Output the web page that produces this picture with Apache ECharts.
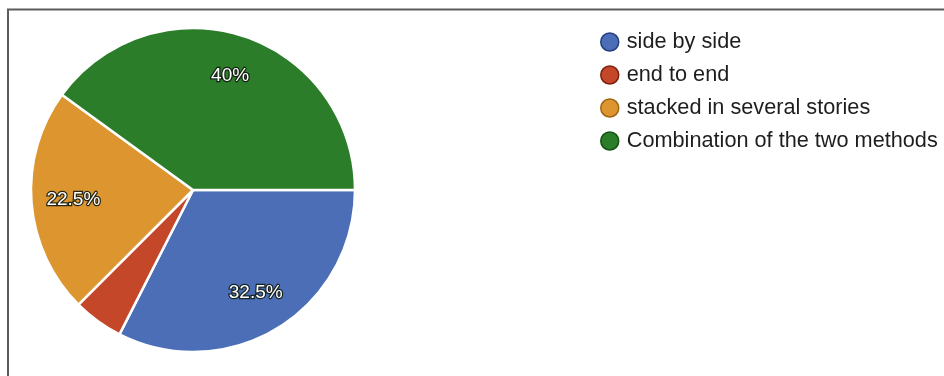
<!DOCTYPE html>
<html>
<head>
<meta charset="utf-8">
<script src="https://cdn.jsdelivr.net/npm/echarts@6/dist/echarts.min.js"></script>
<style>
html,body{margin:0;padding:0;background:#fff;}
#chart{width:944px;height:376px;}
</style>
</head>
<body>
<div id="chart"></div>
<script>
const categories = ['side by side', 'end to end', 'stacked in several stories', 'Combination of the two methods'];
const values = [32.5, 5, 22.5, 40];
const colors = ['#4b6eb7', '#c4472a', '#dd952f', '#2b7d2a'];
const edgeColors = ['#243f80', '#7d2010', '#a0650f', '#145214'];

const chart = echarts.init(document.getElementById('chart'));
const pieData = categories.map((n, i) => ({ name: n, value: values[i], itemStyle: { color: colors[i] } }));

chart.setOption({
  backgroundColor: '#ffffff',
  animation: false,
  graphic: [{
    type: 'polyline',
    shape: { points: [[8, 376], [8, 9.5], [944, 9.5]] },
    style: { stroke: '#5c5c5c', lineWidth: 2, fill: null },
    silent: true
  }],
  legend: {
    orient: 'vertical',
    left: 595,
    top: 26,
    icon: 'circle',
    itemWidth: 18,
    itemHeight: 18,
    itemGap: 11,
    selectedMode: false,
    data: categories.map((n, i) => ({ name: n, itemStyle: { color: colors[i], borderColor: edgeColors[i], borderWidth: 1.5 } })),
    textStyle: { fontFamily: 'Liberation Sans, Arial', fontSize: 21.7, lineHeight: 22, color: '#1e1e1e', padding: [0, 0, 0, 3] }
  },
  series: [{
    type: 'pie',
    center: [193, 190],
    radius: [0, 162],
    startAngle: 0,
    clockwise: true,
    avoidLabelOverlap: false,
    label: { show: false },
    labelLine: { show: false },
    itemStyle: { borderColor: '#ffffff', borderWidth: 2.5 },
    emphasis: { disabled: true },
    data: pieData
  }, {
    type: 'pie',
    center: [193, 190],
    radius: [72, 162],
    startAngle: 0,
    clockwise: true,
    silent: true,
    z: 5,
    avoidLabelOverlap: false,
    itemStyle: { color: 'transparent', borderWidth: 0 },
    labelLine: { show: false },
    emphasis: { disabled: true },
    label: {
      show: true,
      position: 'inside',
      formatter: p => (p.value >= 10 ? p.value + '%' : ''),
      fontFamily: 'Liberation Sans, Arial',
      fontSize: 19,
      color: '#ffffff',
      textBorderColor: 'rgba(15,25,15,0.9)',
      textBorderWidth: 2.5
    },
    data: categories.map((n, i) => ({ name: n, value: values[i] }))
  }]
});
</script>
</body>
</html>
